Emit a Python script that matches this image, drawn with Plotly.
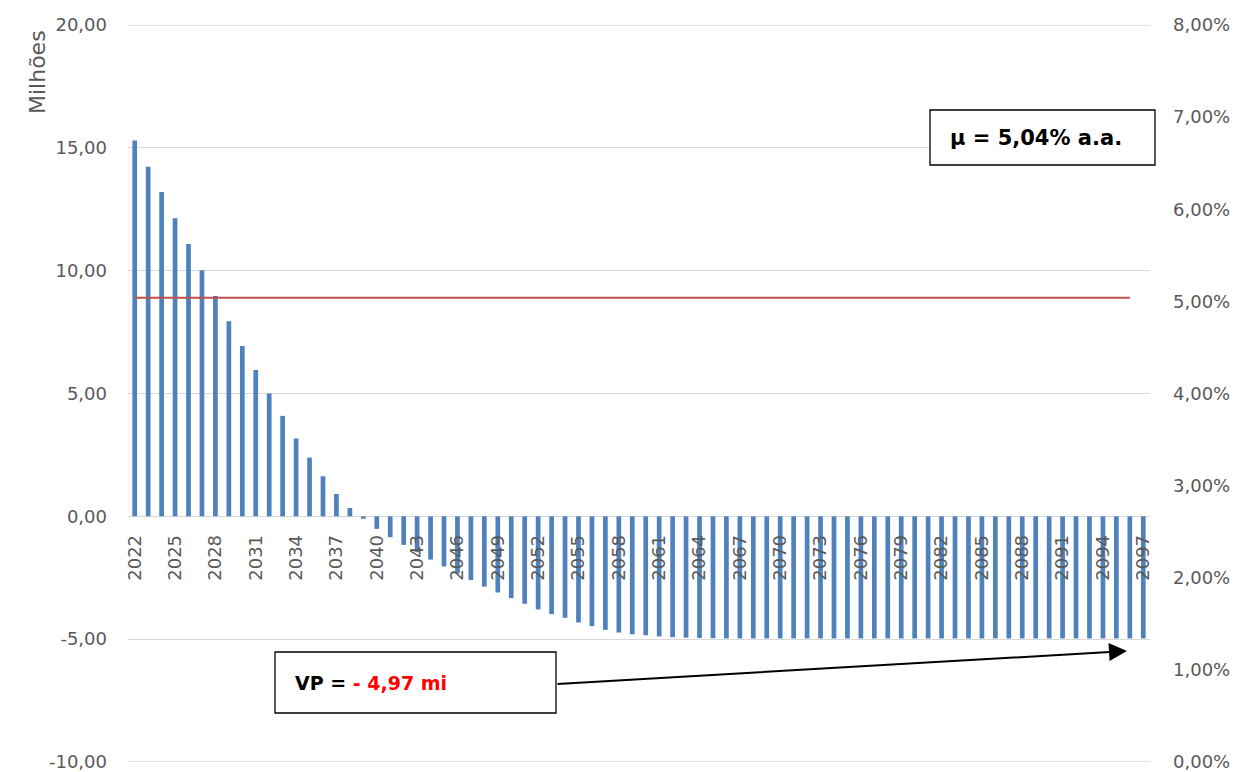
import plotly.graph_objects as go

# Fluxo anual (milhões) por ano
years = [str(y) for y in range(2022, 2098)]
flow_values = [
    15.30, 14.23, 13.20, 12.13, 11.09, 10.02, 8.97, 7.94, 6.93, 5.96,
    5.00, 4.09, 3.17, 2.39, 1.63, 0.91, 0.34, -0.10, -0.51, -0.85,
    -1.16, -1.46, -1.76, -2.04, -2.32, -2.59, -2.86, -3.10, -3.33, -3.56,
    -3.79, -3.98, -4.13, -4.32, -4.47, -4.62, -4.73, -4.80, -4.84, -4.89,
    -4.92, -4.94, -4.95, -4.96, -4.97, -4.97, -4.97, -4.97, -4.97, -4.97,
    -4.97, -4.97, -4.97, -4.97, -4.97, -4.97, -4.97, -4.97, -4.97, -4.97,
    -4.97, -4.97, -4.97, -4.97, -4.97, -4.97, -4.97, -4.97, -4.97, -4.97,
    -4.97, -4.97, -4.97, -4.97, -4.97, -4.97,
]

# Taxa média anual (eixo secundário)
rate_years = ["2022", "2096"]
rate_values = [0.0504, 0.0504]

# Rótulos dos eixos
x_label_years = years[::3]
left_tick_values = [-10, -5, 0, 5, 10, 15, 20]
left_tick_labels = ["-10,00", "-5,00", "0,00", "5,00", "10,00", "15,00", "20,00"]
right_tick_values = [0.00, 0.01, 0.02, 0.03, 0.04, 0.05, 0.06, 0.07, 0.08]
right_tick_labels = ["0,00%", "1,00%", "2,00%", "3,00%", "4,00%",
                     "5,00%", "6,00%", "7,00%", "8,00%"]

W, H = 1237, 772
ML, MR, MT, MB = 128, 87, 25, 10
PW, PH = W - ML - MR, H - MT - MB


def px(x):
    return (x - ML) / PW


def py(y):
    return (H - MB - y) / PH


GRID = "#D9D9D9"
TICK = "#595959"
FONT = "DejaVu Sans"

fig = go.Figure()
fig.add_bar(x=years, y=flow_values, marker=dict(color="#4F81BD", line=dict(width=0)),
            yaxis="y", hoverinfo="x+y")
fig.add_scatter(x=rate_years, y=rate_values, mode="lines",
                line=dict(color="#C0504D", width=2), yaxis="y2")

fig.update_layout(
    width=W, height=H,
    margin=dict(l=ML, r=MR, t=MT, b=MB, autoexpand=False),
    paper_bgcolor="white", plot_bgcolor="white",
    showlegend=False, bargap=0.65,
    xaxis=dict(
        type="category", range=[-0.5, len(years) - 0.5],
        tickmode="array", tickvals=x_label_years, ticktext=x_label_years,
        tickangle=-90, anchor="free", position=1 / 3,
        showgrid=False, showline=False, zeroline=False, ticks="",
        ticklabelstandoff=14, automargin=False,
        tickfont=dict(family=FONT, size=18, color=TICK),
    ),
    yaxis=dict(
        range=[-10, 20], tickmode="array",
        tickvals=left_tick_values, ticktext=left_tick_labels,
        showgrid=True, gridcolor=GRID, gridwidth=1.3,
        zeroline=True, zerolinecolor=GRID, zerolinewidth=1.3,
        showline=False, ticks="", ticklabelstandoff=20,
        ticklabeloverflow="allow", automargin=False,
        tickfont=dict(family=FONT, size=18, color=TICK),
    ),
    yaxis2=dict(
        range=[0, 0.08], overlaying="y", side="right", tickmode="array",
        tickvals=right_tick_values, ticktext=right_tick_labels,
        showgrid=False, zeroline=False, showline=False, ticks="",
        ticklabelstandoff=22, ticklabeloverflow="allow", automargin=False,
        tickfont=dict(family=FONT, size=18, color=TICK),
    ),
)

# Linhas de grade nas bordas do eixo
for edge in (left_tick_values[0], left_tick_values[-1]):
    fig.add_shape(type="line", xref="paper", yref="y", x0=0, x1=1, y0=edge, y1=edge,
                  line=dict(color=GRID, width=1.3), layer="below")

# Caixas de destaque
fig.add_shape(type="rect", xref="paper", yref="paper",
              x0=px(930), x1=px(1155), y0=py(165), y1=py(110),
              line=dict(color="black", width=1.3), fillcolor="white", layer="above")
fig.add_shape(type="rect", xref="paper", yref="paper",
              x0=px(275), x1=px(556), y0=py(713), y1=py(652),
              line=dict(color="black", width=1.3), fillcolor="white", layer="above")

fig.add_annotation(text="<b>μ = 5,04% a.a.</b>", xref="paper", yref="paper",
                   x=px(948), y=py(137.5), xanchor="left", yanchor="middle",
                   showarrow=False, font=dict(family=FONT, size=21, color="black"))
fig.add_annotation(text="<b>VP = </b><b><span style='color:#FF0000'>- 4,97 mi</span></b>",
                   xref="paper", yref="paper",
                   x=px(293), y=py(682.5), xanchor="left", yanchor="middle",
                   showarrow=False, font=dict(family=FONT, size=19, color="black"))

# Seta do VP até o fim da série
fig.add_annotation(text="", xref="paper", yref="paper",
                   x=px(1127), y=py(651), ax=556 - 1127, ay=684 - 651,
                   showarrow=True, arrowhead=2, arrowsize=1.8, arrowwidth=2,
                   arrowcolor="black", standoff=0, startstandoff=0)

# Título do eixo
fig.add_annotation(text="Milhões", xref="paper", yref="paper",
                   x=px(38), y=py(28), xanchor="center", yanchor="top",
                   textangle=-90, showarrow=False,
                   font=dict(family=FONT, size=22, color=TICK))

fig.write_html("out.html")
